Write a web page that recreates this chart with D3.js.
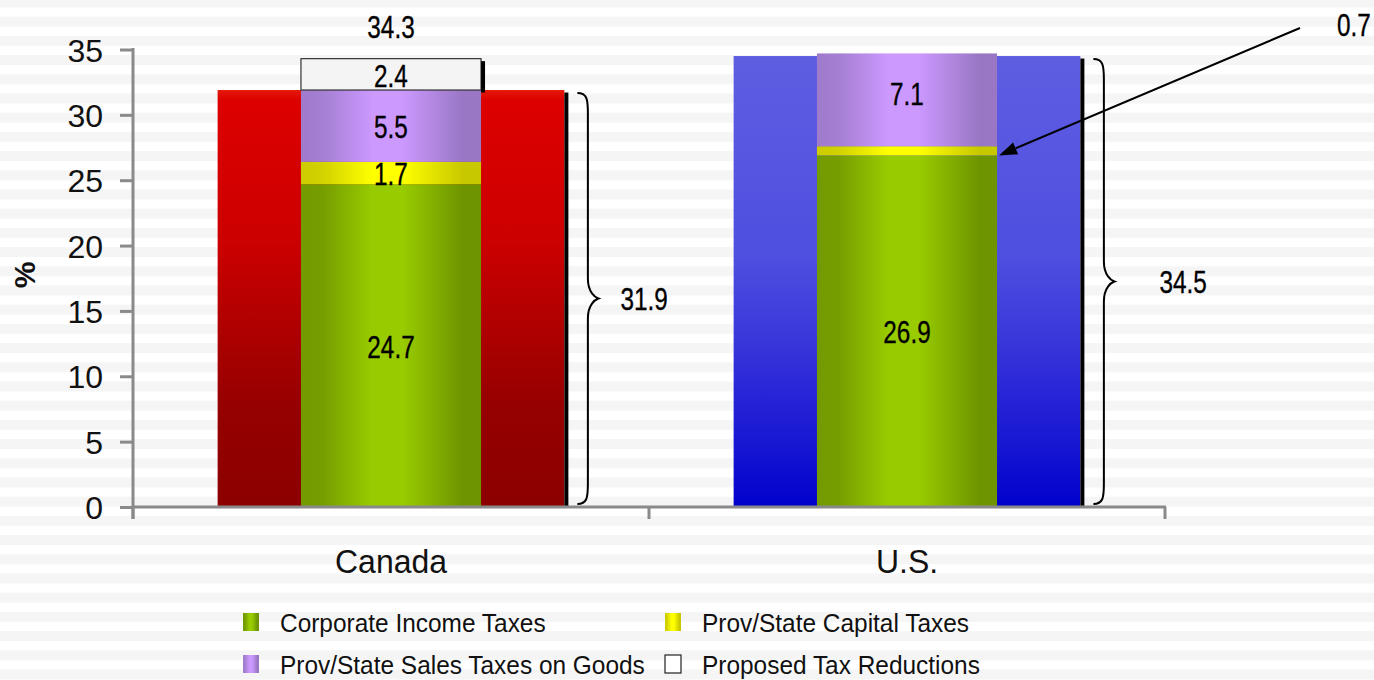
<!DOCTYPE html>
<html>
<head>
<meta charset="utf-8">
<script src="https://cdn.jsdelivr.net/npm/d3@7/dist/d3.min.js"></script>
<style>
  html, body { margin: 0; padding: 0; background: #fff; }
  svg { display: block; }
  text { font-family: "Liberation Sans", Arial, sans-serif; fill: #111; }
</style>
</head>
<body>
<svg id="chart" width="1374" height="680"></svg>
<script>
// ---- data ----
const categories = ["Canada", "U.S."];
const totalRates = [31.9, 34.5];
const corporateIncome = [24.7, 26.9];
const capitalTaxes = [1.7, 0.7];
const salesTaxes = [5.5, 7.1];
const proposedReductions = [2.4, 0];
const proposedTotals = [34.3, null];
const yTicks = [0, 5, 10, 15, 20, 25, 30, 35];
const legendLabels = ["Corporate Income Taxes", "Prov/State Capital Taxes",
                      "Prov/State Sales Taxes on Goods", "Proposed Tax Reductions"];

const W = 1374, H = 680;
const svg = d3.select("#chart");
const defs = svg.append("defs");

// striped backdrop
svg.append("g").selectAll("rect")
  .data(d3.range(-2.5, H, 19.2))
  .join("rect")
  .attr("x", 0).attr("y", d => d).attr("width", W).attr("height", 10)
  .attr("fill", "#f5f5f5");

// ---- scales ----
const x = d3.scaleBand().domain(categories).range([133, 1165])
  .paddingInner(0.328).paddingOuter(0.164);
const xInner = d3.scaleBand().domain(categories).range([133, 1165])
  .paddingInner(0.651).paddingOuter(0.3255);
const y = d3.scaleLinear().domain([0, 35]).range([507, 49.5]);

// ---- gradients ----
function linGrad(id, stops, vertical) {
  const g = defs.append("linearGradient").attr("id", id);
  if (vertical) g.attr("x1", 0).attr("y1", 0).attr("x2", 0).attr("y2", 1);
  else g.attr("x1", 0).attr("y1", 0).attr("x2", 1).attr("y2", 0);
  stops.forEach(([o, c]) => g.append("stop").attr("offset", o).attr("stop-color", c));
}
linGrad("gRed", [[0, "#e41a08"], [0.025, "#dd0000"], [0.36, "#cc0000"], [0.65, "#a40000"], [0.76, "#960000"], [1, "#8c0000"]], true);
linGrad("gBlue", [[0, "#5e5ee2"], [0.45, "#4e4ee0"], [0.62, "#3b38db"], [0.72, "#2c29d8"], [0.88, "#1414d2"], [1, "#0000cc"]], true);
linGrad("gGreen", [[0, "#739a00"], [0.12, "#769d00"], [0.4, "#99cc00"], [0.56, "#99cc00"], [0.9, "#6e9400"], [1, "#6e9400"]], false);
linGrad("gYellow", [[0, "#cccc00"], [0.12, "#d2d200"], [0.4, "#ffff00"], [0.56, "#ffff00"], [0.9, "#c8c800"], [1, "#c8c800"]], false);
linGrad("gPurple", [[0, "#a07bcc"], [0.12, "#a47fd2"], [0.4, "#cc99ff"], [0.56, "#cc99ff"], [0.9, "#9977c4"], [1, "#9977c4"]], false);
const outerFills = ["url(#gRed)", "url(#gBlue)"];

// ---- outer total-rate bars ----
const outer = svg.append("g");
categories.forEach((c, i) => {
  outer.append("rect")
    .attr("x", x(c)).attr("y", y(totalRates[i]))
    .attr("width", x.bandwidth()).attr("height", y(0) - y(totalRates[i]))
    .attr("fill", outerFills[i]);
  // dark edge on the right side
  outer.append("rect")
    .attr("x", x(c) + x.bandwidth()).attr("y", y(totalRates[i]) + 2.5)
    .attr("width", 4).attr("height", y(0) - y(totalRates[i]) - 2.5)
    .attr("fill", "#000");
});

// ---- inner stacked components ----
const components = [
  { vals: corporateIncome, fill: "url(#gGreen)" },
  { vals: capitalTaxes, fill: "url(#gYellow)" },
  { vals: salesTaxes, fill: "url(#gPurple)" },
  { vals: proposedReductions, fill: "#f4f4f4", stroke: "#333" }
];
const stackG = svg.append("g");
const labelG = svg.append("g");

function narrowText(g, tx, ty, str, size, anchor, sx) {
  g.append("text")
    .attr("transform", `translate(${tx},${ty}) scale(${sx || 0.76},1)`)
    .attr("text-anchor", anchor || "middle")
    .attr("dominant-baseline", "central")
    .style("font-size", size + "px")
    .style("fill", "#000")
    .style("stroke", "#000").style("stroke-width", 0.35)
    .text(str);
}

categories.forEach((c, i) => {
  let base = 0;
  components.forEach((comp, k) => {
    const v = comp.vals[i];
    if (!v) return;
    const y0 = y(base), y1 = y(base + v);
    const r = stackG.append("rect")
      .attr("x", xInner(c)).attr("y", y1)
      .attr("width", xInner.bandwidth()).attr("height", y0 - y1)
      .attr("fill", comp.fill);
    if (comp.stroke) {
      r.attr("stroke", comp.stroke).attr("stroke-width", 1.2);
      stackG.append("rect")
        .attr("x", xInner(c) + xInner.bandwidth()).attr("y", y1 + 2.5)
        .attr("width", 4).attr("height", y0 - y1)
        .attr("fill", "#000");
    }
    // value label, skipped for the thin U.S. capital-tax band (called out by arrow)
    if (!(k === 1 && v < 1)) {
      const ly = k === 2 && i === 1 ? (y0 + y1) / 2 - 6 : (y0 + y1) / 2 + 1;
      narrowText(labelG, xInner(c) + xInner.bandwidth() / 2, ly, d3.format(".1f")(v), 32);
    }
    base += v;
  });
  if (proposedTotals[i] != null) {
    narrowText(labelG, xInner(c) + xInner.bandwidth() / 2, 27, d3.format(".1f")(proposedTotals[i]), 32);
  }
});

// ---- axes ----
const axisColor = "#8a8a8a";
const yAxis = svg.append("g").attr("transform", "translate(133,0)")
  .call(d3.axisLeft(y).tickValues(yTicks).tickSize(13).tickSizeOuter(0).tickPadding(17));
yAxis.select(".domain").remove();
yAxis.selectAll(".tick line").attr("stroke", axisColor).attr("stroke-width", 3);
yAxis.selectAll(".tick text")
  .style("font-size", "32px").style("font-family", "'Liberation Sans', Arial, sans-serif")
  .style("fill", "#111").attr("dy", "0.36em");
svg.append("line")
  .attr("x1", 133).attr("x2", 133).attr("y1", y(35) - 1.5).attr("y2", 519)
  .attr("stroke", axisColor).attr("stroke-width", 3);

const xAxis = svg.append("g").attr("transform", `translate(0,${y(0)})`);
xAxis.append("line").attr("x1", 133).attr("x2", 1166).attr("y1", 0).attr("y2", 0)
  .attr("stroke", axisColor).attr("stroke-width", 3);
const boundaries = [133, (x(categories[0]) + x(categories[1]) + x.bandwidth()) / 2, 1165];
xAxis.selectAll(".xt").data(boundaries).join("line")
  .attr("x1", d => d).attr("x2", d => d).attr("y1", 0).attr("y2", 12)
  .attr("stroke", axisColor).attr("stroke-width", 3);
xAxis.selectAll(".cat").data(categories).join("text")
  .attr("transform", d => `translate(${x(d) + x.bandwidth() / 2},54) scale(0.94,1)`)
  .attr("text-anchor", "middle").attr("dominant-baseline", "central")
  .style("font-size", "34px").style("fill", "#111")
  .text(d => d);

// y axis title
svg.append("text")
  .attr("transform", "translate(24,275) rotate(-90)")
  .attr("text-anchor", "middle").attr("dominant-baseline", "central")
  .style("font-size", "30px").style("font-weight", "bold").style("fill", "#111")
  .text("%");

// ---- braces showing total rate ----
function brace(xl, yTop, yBot, w) {
  const ym = (yTop + yBot) / 2, xv = xl + w * 0.5, xp = xl + w;
  return `M${xl},${yTop} C${xv - 1},${yTop} ${xv},${yTop + 6} ${xv},${yTop + 20}` +
         ` L${xv},${ym - 20} C${xv},${ym - 6} ${xp - 3},${ym - 1} ${xp},${ym}` +
         ` C${xp - 3},${ym + 1} ${xv},${ym + 6} ${xv},${ym + 20}` +
         ` L${xv},${yBot - 20} C${xv},${yBot - 6} ${xv - 1},${yBot} ${xl},${yBot}`;
}
const braceOffsets = [22, 45];
categories.forEach((c, i) => {
  const xl = x(c) + x.bandwidth() + 13;
  const yTop = y(totalRates[i]) + 3, yBot = y(0) - 3;
  svg.append("path").attr("d", brace(xl, yTop, yBot, 21))
    .attr("fill", "none").attr("stroke", "#000").attr("stroke-width", 2);
  narrowText(svg, xl + 21 + braceOffsets[i], (yTop + yBot) / 2, d3.format(".1f")(totalRates[i]), 32, "start");
});

// ---- call-out arrow for the thin U.S. capital-tax band ----
const usIdx = 1;
const tipX = xInner(categories[usIdx]) + xInner.bandwidth() + 2;
const tipY = y(corporateIncome[usIdx]);
const startX = 1300, startY = 28;
const ang = Math.atan2(tipY - startY, tipX - startX);
const headLen = 18, headHalf = 6.5;
const bx = tipX - headLen * Math.cos(ang), by = tipY - headLen * Math.sin(ang);
svg.append("line").attr("x1", startX).attr("y1", startY).attr("x2", bx).attr("y2", by)
  .attr("stroke", "#000").attr("stroke-width", 2);
svg.append("path")
  .attr("d", `M${tipX},${tipY} L${bx + headHalf * Math.sin(ang)},${by - headHalf * Math.cos(ang)} L${bx - headHalf * Math.sin(ang)},${by + headHalf * Math.cos(ang)} Z`)
  .attr("fill", "#000");
narrowText(svg, 1337, 25, d3.format(".1f")(capitalTaxes[usIdx]), 32, "start");

// ---- legend ----
const legendFills = ["url(#gGreen)", "url(#gYellow)", "url(#gPurple)", "#fff"];
const legendPos = [[243, 622], [665, 622], [243, 664], [665, 664]];
const leg = svg.append("g");
legendLabels.forEach((lab, i) => {
  const [lx, ly] = legendPos[i];
  leg.append("rect").attr("x", lx).attr("y", ly - 9).attr("width", 16).attr("height", 18)
    .attr("fill", legendFills[i])
    .attr("stroke", i === 3 ? "#222" : "none").attr("stroke-width", 1.2);
  leg.append("text")
    .attr("transform", `translate(${lx + 37},${ly + 1}) scale(0.94,1)`)
    .attr("dominant-baseline", "central")
    .style("font-size", "26px").style("fill", "#111")
    .text(lab);
});
</script>
</body>
</html>
